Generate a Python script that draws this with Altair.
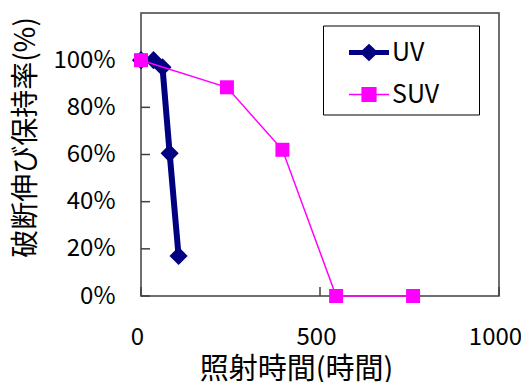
import altair as alt
import pandas as pd

FONT = "Noto Sans CJK JP"

series_names = ["UV", "SUV"]
series_colors = ["#000080", "#FF00FF"]
uv_hours = [0, 35, 60, 80, 105]
uv_retention = [100, 100, 97, 60.5, 17]
suv_hours = [0, 240, 395, 545, 760]
suv_retention = [100, 88.5, 62, 0, 0]
x_ticks = [0, 500, 1000]
y_ticks = [0, 20, 40, 60, 80, 100]
x_title = "照射時間(時間)"
y_title = "破断伸び保持率(%)"

df = pd.DataFrame({
    "series": ["UV"] * len(uv_hours) + ["SUV"] * len(suv_hours),
    "hours": uv_hours + suv_hours,
    "retention": uv_retention + suv_retention,
    "order": list(range(len(uv_hours))) + list(range(len(suv_hours))),
})

x_scale = alt.Scale(domain=[0, 1000], nice=False, zero=False)
y_scale = alt.Scale(domain=[0, 120], nice=False)
color_scale = alt.Scale(domain=series_names, range=series_colors)

x_axis = alt.Axis(
    values=x_ticks, format="d", title=x_title, domain=False, ticks=False, tickSize=0,
    grid=False, labelPadding=29, labelOffset=-4, labelFlush=False,
    labelFont=FONT, labelFontSize=24, labelColor="black",
    titleFont=FONT, titleFontSize=29, titleFontWeight="normal", titleColor="black",
    titleX=155, titleY=73, titleAlign="center", titleBaseline="middle",
)
y_axis = alt.Axis(
    values=y_ticks, labelExpr="datum.value + '%'", title=y_title, domain=False,
    ticks=False, tickSize=0, grid=False, labelPadding=26,
    labelFont=FONT, labelFontSize=24, labelColor="black",
    titleFont=FONT, titleFontSize=28, titleFontWeight="normal", titleColor="black",
    titleAngle=270, titleX=-115, titleY=124, titleAlign="center", titleBaseline="middle",
)

X = alt.X("hours:Q", scale=x_scale, axis=x_axis)
Y = alt.Y("retention:Q", scale=y_scale, axis=y_axis)

uv_path = "M-1,-0.13L1,-0.13L1,0.13L-1,0.13Z M0,-0.44L0.46,0L0,0.44L-0.46,0Z"
suv_path = "M-1,-0.04L1,-0.04L1,0.04L-1,0.04Z M-0.38,-0.38L0.38,-0.38L0.38,0.38L-0.38,0.38Z"

legend = alt.Legend(
    title="MM", titleOrient="right", titleColor="rgba(0,0,0,0)", titleFontSize=19,
    titlePadding=0, titleFont=FONT,
    orient="none", legendX=182, legendY=12.5, padding=7,
    strokeColor="black", symbolSize=1600, symbolOffset=19, symbolOpacity=1,
    symbolStrokeWidth=0, labelOffset=3, rowPadding=9,
    labelFont=FONT, labelFontSize=25, labelColor="black",
)

y_tick_rules = alt.Chart(pd.DataFrame({"retention": y_ticks})).mark_rule(
    color="#404040", strokeWidth=1.5
).encode(y=Y, x=alt.value(0), x2=alt.value(9))

x_tick_rules = alt.Chart(pd.DataFrame({"hours": x_ticks})).mark_rule(
    color="#404040", strokeWidth=1.5
).encode(x=X, y=alt.value(283), y2=alt.value(274))

base = alt.Chart(df)

uv_line = base.transform_filter(alt.datum.series == "UV").mark_line(
    strokeWidth=6, strokeJoin="round", strokeCap="round", color=series_colors[0]
).encode(x=X, y=Y, order="order:Q")
uv_pts = base.transform_filter(alt.datum.series == "UV").mark_point(
    filled=True, shape="diamond", size=330, opacity=1, color=series_colors[0]
).encode(x=X, y=Y)
suv_line = base.transform_filter(alt.datum.series == "SUV").mark_line(
    strokeWidth=1.5, color=series_colors[1]
).encode(x=X, y=Y, order="order:Q")
suv_pts = base.transform_filter(alt.datum.series == "SUV").mark_point(
    filled=True, shape="square", size=196, opacity=1, color=series_colors[1]
).encode(x=X, y=Y)

legend_layer = base.mark_point(filled=True, opacity=0).encode(
    x=X, y=Y,
    color=alt.Color("series:N", scale=color_scale, legend=legend),
    shape=alt.Shape("series:N", scale=alt.Scale(domain=series_names, range=[uv_path, suv_path]), legend=legend),
)

chart = alt.layer(
    y_tick_rules, x_tick_rules, uv_line, uv_pts, suv_line, suv_pts, legend_layer
).properties(
    width=358, height=283,
    autosize=alt.AutoSizeParams(type="none"),
    padding={"left": 133, "top": 5, "right": 22, "bottom": 86},
).configure_view(stroke="#404040", strokeWidth=1.5)

chart.save("out.html", embed_options={"renderer": "svg", "actions": False})
